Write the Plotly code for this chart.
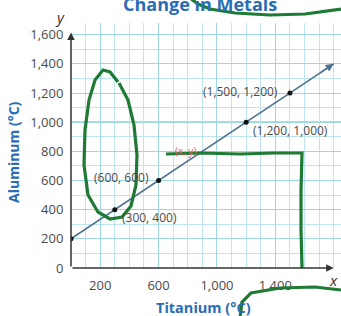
import plotly.graph_objects as go

# ---- data ----
point_x = [0, 300, 600, 1200, 1500]
point_y = [200, 400, 600, 1000, 1200]
line_x = [0, 1800]
line_y = [200, 1400]
y_ticks = [0, 200, 400, 600, 800, 1000, 1200, 1400, 1600]
y_tick_text = ["0", "200", "400", "600", "800", "1,000", "1,200", "1,400", "1,600"]
x_ticks = [200, 600, 1000, 1400]
x_tick_text = ["200", "600", "1,000", "1,400"]
point_labels = ["", "(300, 400)", "(600, 600)", "(1,200, 1,000)", "(1,500, 1,200)"]

W, H = 341, 316
ML, MR, MT, MB = 71, 0, 23, 48
PW, PH = W - ML - MR, H - MT - MB

BLUE = "#2a6db5"
GRAY = "#4a4a4a"
FONT = "Open Sans"

fig = go.Figure()

fig.add_trace(go.Scatter(x=line_x, y=line_y, mode="lines",
                         line=dict(color="#4f7390", width=1.6),
                         hoverinfo="skip", showlegend=False))
fig.add_trace(go.Scatter(x=point_x, y=point_y, mode="markers",
                         marker=dict(color="#111", size=5),
                         showlegend=False))

annotations = []
# label placements (anchor, xshift, yshift)
label_pos = [None, ("left", 5, -8), ("right", -8, 3), ("left", 5, -8), ("right", -10, 2)]
for xv, yv, t, p in zip(point_x, point_y, point_labels, label_pos):
    if not t:
        continue
    annotations.append(dict(x=xv, y=yv, text=t, showarrow=False, xanchor=p[0], yanchor="middle",
                            xshift=p[1], yshift=p[2],
                            font=dict(family=FONT, size=12, color=GRAY)))

# arrow head at end of line
annotations.append(dict(x=line_x[1], y=line_y[1], ax=-15, ay=10, showarrow=True,
                        arrowhead=2, arrowsize=1, arrowwidth=1.6, arrowcolor="#4f7390", text=""))
# axis arrows
annotations.append(dict(x=1800, y=0, ax=0, ay=0, axref="x", ayref="y", xref="x", yref="y",
                        showarrow=True, arrowhead=2, arrowsize=1, arrowwidth=1.5,
                        arrowcolor="#333", text=""))
annotations.append(dict(x=0, y=1615, ax=0, ay=0, axref="x", ayref="y", xref="x", yref="y",
                        showarrow=True, arrowhead=2, arrowsize=1, arrowwidth=1.5,
                        arrowcolor="#333", text=""))

def px(xp, yp):
    return (xp - ML) / PW, (H - MB - yp) / PH

def paper_text(text, xp, yp, size, color, angle=0):
    u, v = px(xp, yp)
    return dict(x=u, y=v, xref="paper", yref="paper", text=text, showarrow=False,
                xanchor="center", yanchor="middle", textangle=angle,
                font=dict(family=FONT, size=size, color=color))

# axis letters
annotations.append(paper_text("<i>y</i>", 60, 17, 15, "#333"))
annotations.append(paper_text("<i>x</i>", 333, 280, 15, "#333"))
# red (x, y)
annotations.append(paper_text("(x, y)", 185, 151, 10, "#e0607a"))
# titles
annotations.append(paper_text("<b>Change in Metals</b>", 200, 4, 18, BLUE))
annotations.append(paper_text("<b>Titanium (°C)</b>", 203, 307, 14.5, BLUE))
annotations.append(paper_text("<b>Aluminum (°C)</b>", 13, 152, 14, BLUE, angle=-90))

# green pen scribbles (decoration, pixel space -> paper)
def path(pts):
    s = ""
    for i, (a, b) in enumerate(pts):
        u, v = px(a, b)
        s += ("M" if i == 0 else "L") + "%.4f,%.4f " % (u, v)
    return s

GREEN = "#1e7a34"
scribbles = [
    [(190, -2), (198, 4), (210, 9), (235, 13), (270, 15), (305, 14), (341, 9)],
    [(118, 82), (110, 72), (103, 70), (95, 80), (89, 100), (85, 130), (84, 165), (88, 195),
     (98, 212), (110, 219), (122, 217), (131, 206), (136, 185), (137, 155), (134, 125),
     (128, 100), (119, 83)],
    [(166, 154), (200, 153), (240, 154), (275, 153), (302, 153), (301, 190), (301, 230), (302, 268)],
    [(240, 318), (242, 302), (251, 293), (280, 288), (315, 287), (341, 290)],
]

shapes = [dict(type="line", xref="paper", yref="y", x0=0, x1=1, y0=1000, y1=1000,
               line=dict(color="#55b8e8", width=1.3), layer="below")]
for s in scribbles:
    shapes.append(dict(type="path", xref="paper", yref="paper", path=path(s),
                       line=dict(color=GREEN, width=3.2), layer="above"))

fig.update_layout(
    width=W, height=H, margin=dict(l=ML, r=MR, t=MT, b=MB, autoexpand=False),
    paper_bgcolor="white", plot_bgcolor="white",
    showlegend=False, annotations=annotations, shapes=shapes,
    font=dict(family=FONT, color=GRAY),
    xaxis=dict(range=[0, 1850], tickvals=x_ticks, ticktext=x_tick_text,
               showgrid=True, gridcolor="#9fd6e4", gridwidth=1,
               minor=dict(dtick=100, showgrid=True, gridcolor="#bfe6ef", gridwidth=1, tick0=0),
               zeroline=False, showline=False, ticks="outside", ticklen=5, tickcolor="rgba(0,0,0,0)",
               tickfont=dict(family=FONT, size=13, color=GRAY), fixedrange=True),
    yaxis=dict(range=[0, 1680], tickvals=y_ticks, ticktext=y_tick_text,
               showgrid=True, gridcolor="#9fd6e4", gridwidth=1,
               minor=dict(dtick=100, showgrid=True, gridcolor="#bfe6ef", gridwidth=1, tick0=0),
               zeroline=False, showline=False, ticks="outside", ticklen=4, tickcolor="rgba(0,0,0,0)",
               tickfont=dict(family=FONT, size=13, color=GRAY), fixedrange=True),
)

fig.write_html("out.html", post_script="document.body.style.margin='0';",
               config={"displayModeBar": False})
